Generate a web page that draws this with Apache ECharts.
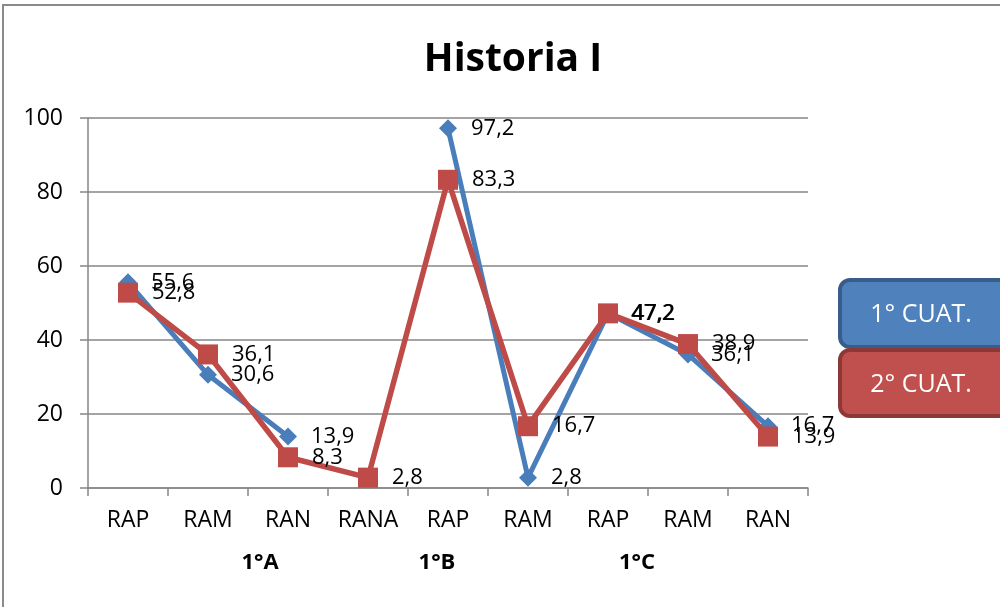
<!DOCTYPE html>
<html>
<head>
<meta charset="utf-8">
<script src="https://cdn.jsdelivr.net/npm/echarts@6/dist/echarts.min.js"></script>
<style>html,body{margin:0;padding:0;background:#fff}#c{width:1000px;height:607px}</style>
</head>
<body>
<div id="c"></div>
<script>
const categories = ['RAP','RAM','RAN','RANA','RAP','RAM','RAP','RAM','RAN'];
const groups = ['1°A','1°B','1°C'];
const cuat1 = [55.6, 30.6, 13.9, null, 97.2, 2.8, 47.2, 36.1, 16.7];
const cuat2 = [52.8, 36.1, 8.3, 2.8, 83.3, 16.7, 47.2, 38.9, 13.9];
const yTicks = [0, 20, 40, 60, 80, 100];
const seriesNames = ['1° CUAT.', '2° CUAT.'];

const FONT = "'Open Sans', 'Liberation Sans', sans-serif";
const fmt = p => p.value == null ? '' : p.value.toFixed(1).replace('.', ',');

const chart = echarts.init(document.getElementById('c'));
chart.setOption({
  animation: false,
  backgroundColor: '#fff',
  textStyle: { fontFamily: FONT },
  title: {
    text: 'Historia I', left: 508, top: 35, textAlign: 'center',
    textStyle: { fontSize: 39, fontWeight: 'bold', color: '#000', fontFamily: FONT }
  },
  grid: { left: 88, top: 118, width: 720, height: 370 },
  xAxis: {
    type: 'category', data: categories, boundaryGap: true,
    axisLine: { lineStyle: { color: '#868686', width: 1.5 } },
    axisTick: { show: true, length: 8, lineStyle: { color: '#868686', width: 1.5 } },
    axisLabel: { color: '#000', fontSize: 23, margin: 21, fontFamily: FONT }
  },
  yAxis: {
    type: 'value', min: yTicks[0], max: yTicks[yTicks.length - 1], interval: 20,
    axisLine: { show: true, lineStyle: { color: '#868686', width: 1.5 } },
    axisTick: { show: true, length: 8, lineStyle: { color: '#868686', width: 1.5 } },
    splitLine: { lineStyle: { color: '#868686', width: 1.5 } },
    axisLabel: { color: '#000', fontSize: 23, margin: 25, fontFamily: FONT }
  },
  series: [
    {
      name: seriesNames[0], type: 'line', data: cuat1, connectNulls: false,
      symbol: 'diamond', symbolSize: 18,
      lineStyle: { color: '#4A7EBB', width: 5 },
      itemStyle: { color: '#4A7EBB' },
      label: { show: true, position: 'right', distance: 14, formatter: fmt, color: '#000', fontSize: 22, fontFamily: FONT },
      z: 2
    },
    {
      name: seriesNames[1], type: 'line', data: cuat2,
      symbol: 'rect', symbolSize: 20,
      lineStyle: { color: '#BE4B48', width: 5.5 },
      itemStyle: { color: '#BE4B48' },
      label: { show: true, position: 'right', distance: 14, formatter: fmt, color: '#000', fontSize: 22, fontFamily: FONT },
      z: 3
    }
  ],
  graphic: [
    { type: 'rect', shape: { x: 3, y: 5, width: 1010, height: 620 }, style: { fill: 'none', stroke: '#8a8a8a', lineWidth: 2 }, silent: true },
    { type: 'text', x: 260, y: 563, style: { text: groups[0], font: "bold 22px " + FONT, fill: '#000', textAlign: 'center', textVerticalAlign: 'middle' } },
    { type: 'text', x: 437, y: 563, style: { text: groups[1], font: "bold 22px " + FONT, fill: '#000', textAlign: 'center', textVerticalAlign: 'middle' } },
    { type: 'text', x: 637, y: 563, style: { text: groups[2], font: "bold 22px " + FONT, fill: '#000', textAlign: 'center', textVerticalAlign: 'middle' } },
    { type: 'rect', shape: { x: 840, y: 280, width: 170, height: 67, r: 10 }, style: { fill: '#4F81BD', stroke: '#385D8A', lineWidth: 4 } },
    { type: 'text', x: 921, y: 315, style: { text: seriesNames[0], font: "25px " + FONT, fill: '#fff', textAlign: 'center', textVerticalAlign: 'middle' } },
    { type: 'rect', shape: { x: 840, y: 350, width: 170, height: 66, r: 10 }, style: { fill: '#C0504D', stroke: '#8C3836', lineWidth: 4 } },
    { type: 'text', x: 921, y: 385, style: { text: seriesNames[1], font: "25px " + FONT, fill: '#fff', textAlign: 'center', textVerticalAlign: 'middle' } }
  ]
});
</script>
</body>
</html>
